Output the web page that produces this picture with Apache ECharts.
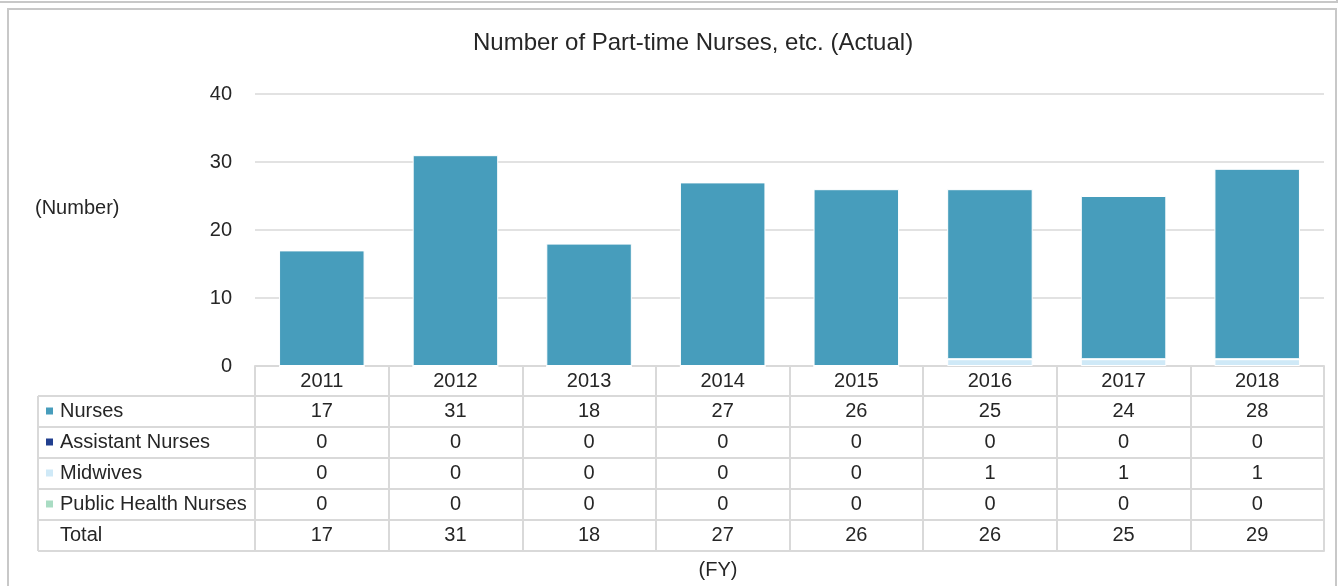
<!DOCTYPE html>
<html>
<head>
<meta charset="utf-8">
<script src="https://cdn.jsdelivr.net/npm/echarts@6/dist/echarts.min.js"></script>
<style>
  html, body { margin: 0; padding: 0; background: #fff; }
  #chart { width: 1341px; height: 586px; }
</style>
</head>
<body>
<div id="chart"></div>
<script>
const years = ["2011", "2012", "2013", "2014", "2015", "2016", "2017", "2018"];
const nurses = [17, 31, 18, 27, 26, 25, 24, 28];
const assistantNurses = [0, 0, 0, 0, 0, 0, 0, 0];
const midwives = [0, 0, 0, 0, 0, 1, 1, 1];
const publicHealthNurses = [0, 0, 0, 0, 0, 0, 0, 0];
const totals = [17, 31, 18, 27, 26, 26, 25, 29];
const yTicks = [0, 10, 20, 30, 40];

const rowNames = ["Nurses", "Assistant Nurses", "Midwives", "Public Health Nurses", "Total"];
const rowValues = [nurses, assistantNurses, midwives, publicHealthNurses, totals];
const rowColors = ["#479dbc", "#213f8f", "#cfe9f7", "#a9dcc3", null];
// bottom-to-top stacking as in the picture
const stackSeq = [2, 3, 1, 0];

const chart = echarts.init(document.getElementById("chart"));

const lineColor = "#d9d9d9";
const textColor = "#262626";
const font = "Liberation Sans, Arial, sans-serif";
const fs = 20;
const gridTop = 94, gridBottom = 366;
const headerH = 30, rowH = 31;
const tableLeft = 38, tableRight = 255;

// table rows as extra x axes below the grid
let xAxes = [{
  type: "category",
  data: years,
  position: "bottom",
  axisLine: { lineStyle: { color: lineColor, width: 2 } },
  axisTick: { show: true, interval: 0, length: headerH, lineStyle: { color: lineColor, width: 2 } },
  axisLabel: { color: textColor, fontSize: fs, fontFamily: font, margin: 5 },
}];
rowValues.forEach((vals, i) => {
  xAxes.push({
    type: "category",
    data: vals.map(String),
    position: "bottom",
    offset: headerH + i * rowH,
    axisLine: { lineStyle: { color: lineColor, width: 2 } },
    axisTick: { show: true, interval: 0, length: rowH, lineStyle: { color: lineColor, width: 2 } },
    axisLabel: { color: textColor, fontSize: fs, fontFamily: font, margin: 5, interval: 0 },
  });
});
xAxes.push({
  type: "category",
  data: years,
  position: "bottom",
  offset: headerH + rowNames.length * rowH,
  axisLine: { lineStyle: { color: lineColor, width: 2 } },
  axisTick: { show: false },
  axisLabel: { show: false },
});

const series = stackSeq.map((i) => ({
  name: rowNames[i],
  type: "bar",
  stack: "total",
  barCategoryGap: "36%",
  data: rowValues[i],
  itemStyle: { color: rowColors[i], borderColor: "#fff", borderWidth: 1 },
}));

// left column of the table
const tableBottom = gridBottom + headerH + rowNames.length * rowH;
let graphics = [
  { type: "polyline", shape: { points: [[0, 2], [1337, 2], [1337, 0]] }, style: { stroke: "#c8c8c8", lineWidth: 2, fill: null } },
  { type: "polyline", shape: { points: [[8, 600], [8, 9], [1336, 9], [1336, 600]] }, style: { stroke: "#c8c8c8", lineWidth: 2, fill: null } },
  { type: "line", shape: { x1: tableLeft, y1: gridBottom + headerH, x2: tableLeft, y2: tableBottom }, style: { stroke: lineColor, lineWidth: 2 } },
  { type: "text", x: 35, y: 208, style: { text: "(Number)", fill: textColor, font: fs + "px " + font, textVerticalAlign: "middle" } },
  { type: "text", x: 718, y: 570, style: { text: "(FY)", fill: textColor, font: fs + "px " + font, textAlign: "center", textVerticalAlign: "middle" } },
];
for (let i = 0; i <= rowNames.length; i++) {
  const y = gridBottom + headerH + i * rowH;
  graphics.push({ type: "line", shape: { x1: tableLeft, y1: y, x2: tableRight, y2: y }, style: { stroke: lineColor, lineWidth: 2 } });
}
rowNames.forEach((name, i) => {
  const cy = gridBottom + headerH + i * rowH + rowH / 2;
  if (rowColors[i]) {
    graphics.push({ type: "rect", shape: { x: 46, y: cy - 4, width: 7, height: 7 }, style: { fill: rowColors[i] } });
  }
  graphics.push({ type: "text", x: 60, y: cy, style: { text: name, fill: textColor, font: fs + "px " + font, textVerticalAlign: "middle" } });
});

const option = {
  backgroundColor: "#fff",
  animation: false,
  title: {
    text: "Number of Part-time Nurses, etc. (Actual)",
    left: 468,
    top: 26,
    textStyle: { color: textColor, fontSize: 24, fontWeight: "normal", fontFamily: font },
  },
  grid: { left: 255, right: 17, top: gridTop, bottom: 586 - gridBottom },
  xAxis: xAxes,
  yAxis: {
    type: "value",
    min: yTicks[0],
    max: yTicks[yTicks.length - 1],
    interval: 10,
    axisLine: { show: false },
    axisTick: { show: false },
    axisLabel: { color: textColor, fontSize: fs, fontFamily: font, margin: 23 },
    splitLine: { lineStyle: { color: lineColor, width: 1.5 } },
  },
  series: series,
  graphic: graphics,
};
chart.setOption(option);
</script>
</body>
</html>
